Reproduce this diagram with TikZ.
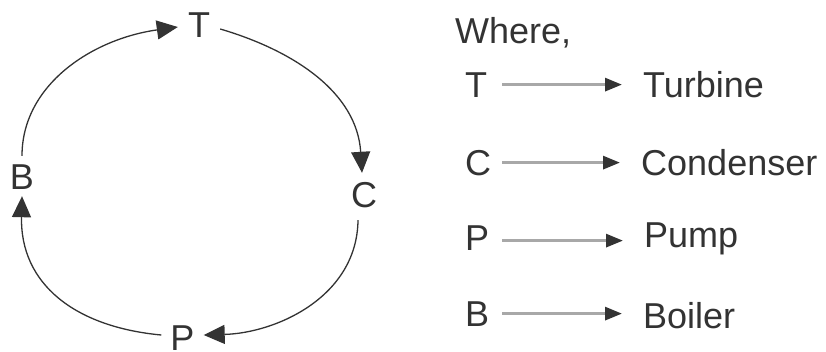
\documentclass[tikz,border=0pt]{standalone}
\usepackage{fontspec}
\setmainfont{Liberation Sans}
\usetikzlibrary{arrows.meta}
\definecolor{ink}{HTML}{333333}
\definecolor{legline}{HTML}{A8A8A8}
\begin{document}
\begin{tikzpicture}[x=1pt,y=-1pt,
  lbl/.style={text=ink,font=\fontsize{36}{40}\selectfont,text height=26pt,text depth=0pt,inner xsep=9pt,inner ysep=7pt},
  cyc/.style={draw=ink,line width=1.3pt,-{Triangle[length=21pt,width=19pt]}},
  leg/.style={text=ink,font=\fontsize{36}{40}\selectfont,inner sep=0pt,anchor=base west},
  legarrow/.style={draw=legline,line width=3pt,-{Triangle[length=17pt,width=13pt,color=ink]},shorten >=21pt}]
\useasboundingbox (0,0) rectangle (826,351);
% cycle labels
\node[lbl] (T) at (199,24) {T};
\node[lbl] (B) at (22,176) {B};
\node[lbl] (C) at (364,194) {C};
\node[lbl,inner ysep=0pt] (P) at (182.5,337) {P};
% cycle arcs
\draw[cyc] (B.north) .. controls (22,85) and (92,39) .. ([shift={(-1,3)}]T.west);
\draw[cyc] ([shift={(1,5)}]T.east) .. controls (295,51) and (357,93) .. ([shift={(-2,-1)}]C.north);
\draw[cyc] ([shift={(-6,6)}]C.south) .. controls (357,297) and (276,333) .. ([yshift=2]P.east);
\draw[cyc] ([yshift=2]P.west) .. controls (75,327) and (20,284) .. (B.south);
% legend
\node[leg] (where) at (455,43) {Where,};
\node[leg] (lT) at (465,97) {\makebox[37pt][l]{T}};
\node[leg] (lC) at (465,175) {\makebox[37pt][l]{C}};
\node[leg] (lP) at (465,250) {\makebox[37pt][l]{P}};
\node[leg] (lB) at (465,326) {\makebox[37pt][l]{B}};
\node[leg] (nT) at (643,97) {Turbine};
\node[leg] (nC) at (641,175) {Condenser};
\node[leg] (nP) at (644,247) {Pump};
\node[leg] (nB) at (643,328) {Boiler};
\draw[legarrow] (lT.east) -- (lT.east -| nT.west);
\draw[legarrow] (lC.east) -- (lC.east -| nC.west);
\draw[legarrow] ([yshift=-3]lP.east) -- ([yshift=-3]lP.east -| nP.west);
\draw[legarrow] (lB.east) -- (lB.east -| nB.west);
\end{tikzpicture}
\end{document}
